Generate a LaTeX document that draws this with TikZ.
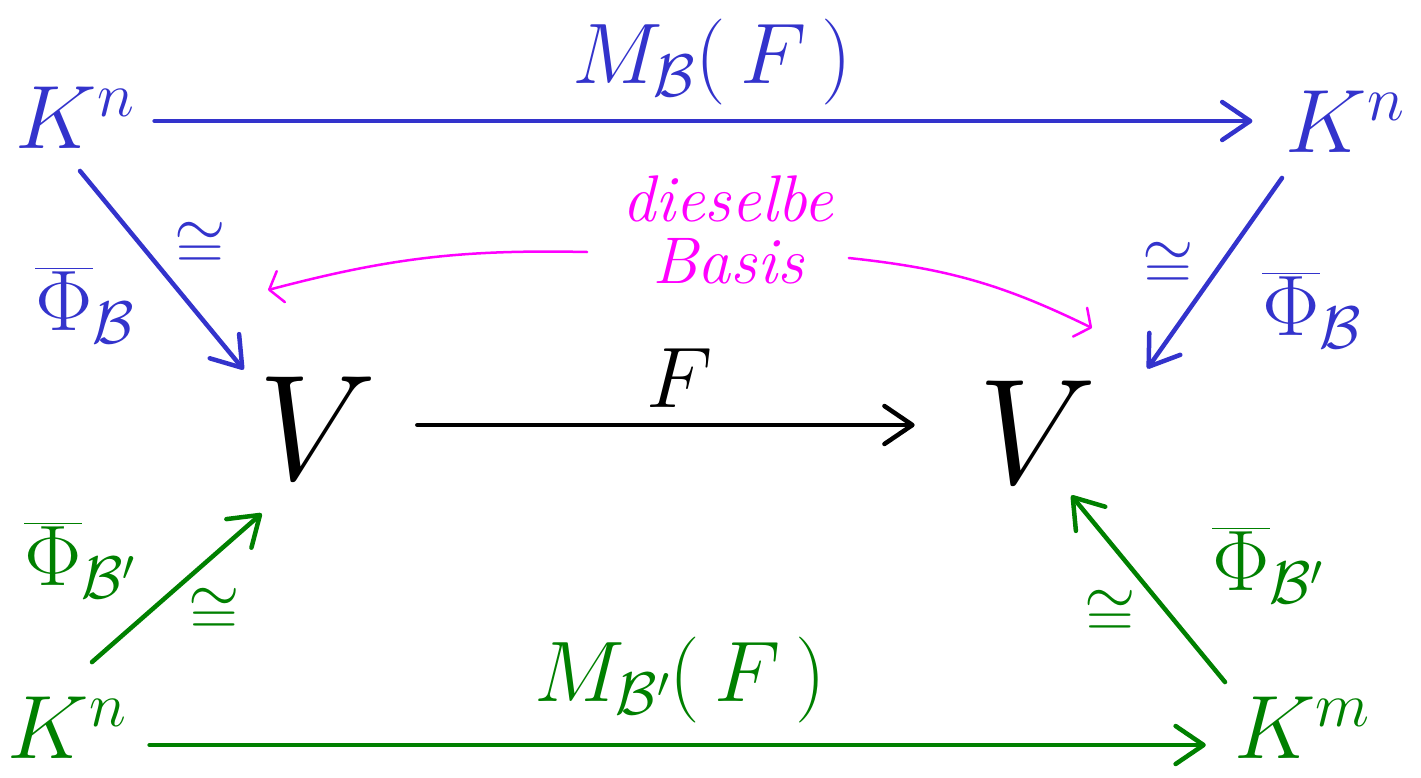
\RequirePackage{fix-cm}
\documentclass[tikz,border=0pt]{standalone}
\usepackage{amsmath}
\usepackage{tikz}
\usetikzlibrary{arrows.meta}
\definecolor{InkBlue}{HTML}{3333CC}
\definecolor{InkGreen}{HTML}{008000}
\definecolor{InkPink}{HTML}{FF00FF}

\begin{document}
\begin{tikzpicture}[x=1pt,y=-1pt, every node/.style={inner sep=0pt},
    sp/.style={font=\fontsize{90}{100}\selectfont},
    vs/.style={font=\fontsize{150}{160}\selectfont},
    lb/.style={font=\fontsize{86}{90}\selectfont},
    iso/.style={font=\fontsize{66}{72}\selectfont},
    arr/.style={line width=4.5pt,line cap=round,-{Straight Barb[round,length=28pt,width=38pt,line width=4.5pt]}},
    hint/.style={line width=2.5pt,line cap=round,-{Straight Barb[round,length=12pt,width=32pt,line width=2.5pt]}}]
    \useasboundingbox (0,0) rectangle (1421,777);
    % spaces
    \node[sp,text=InkBlue](kn1)at(75,118){$K^n$};
    \node[sp,text=InkBlue](kn2)at(1345,122){$K^n$};
    \node[vs](vL)at(318,428){$V$};
    \node[vs](vR)at(1038,432){$V$};
    \node[sp,text=InkGreen](kn3)at(67,728){$K^n$};
    \node[sp,text=InkGreen](km)at(1302,728){$K^m$};
    % maps
    \draw[arr,InkBlue]([shift={(20,3)}]kn1.east)--([shift={(-33,-1)}]kn2.west);
    \draw[arr]([shift={(40,-3)}]vL.east)--([shift={(-64,-7)}]vR.west);
    \draw[arr,InkGreen]([shift={(23,17)}]kn3.east)--([shift={(-28,17)}]km.west);
    \draw[arr,InkBlue]([shift={(5,22)}]kn1.south)--([shift={(-15,-7)}]vL.north west);
    \draw[arr,InkBlue]([shift={(-63,25)}]kn2.south)--([shift={(50,-12)}]vR.north east);
    \draw[arr,InkGreen]([shift={(25,-35)}]kn3.north)--([shift={(3,34)}]vL.south west);
    \draw[arr,InkGreen]([shift={(-77,-15)}]km.north)--([shift={(-26,12)}]vR.south east);
    % labels
    \node[lb,text=InkBlue](mB)at(712,62){$M_{\mathcal{B}}(\,F\,)$};
    \node[lb](f)at(680,378){$F$};
    \node[lb,text=InkGreen](mBp)at(680,680){$M_{\mathcal{B}'}(\,F\,)$};
    \node[lb,text=InkBlue](phi1)at(85,305){$\overline{\Phi}_{\mathcal{B}}$};
    \node[lb,text=InkBlue](phi2)at(1312,310){$\overline{\Phi}_{\mathcal{B}}$};
    \node[lb,text=InkGreen](phi3)at(80,560){$\overline{\Phi}_{\mathcal{B}'}$};
    \node[lb,text=InkGreen](phi4)at(1268,565){$\overline{\Phi}_{\mathcal{B}'}$};
    \node[iso,text=InkBlue](iso1)at(200,246){$\cong$};
    \node[iso,text=InkBlue](iso2)at(1168,266){$\cong$};
    \node[iso,text=InkGreen](iso3)at(214,612){$\cong$};
    \node[iso,text=InkGreen](iso4)at(1110,614){$\cong$};
    % same basis
    \node[font=\fontsize{66}{62}\selectfont\itshape,text=InkPink,align=center](basis)at(728,230){dieselbe\\Basis};
    \coordinate(pinL)at(268,290);
    \coordinate(pinR)at(1092,328);
    \draw[hint,InkPink]([shift={(-35,22)}]basis.west)to[bend right=8](pinL);
    \draw[hint,InkPink]([shift={(15,28)}]basis.east)to[bend left=10](pinR);
\end{tikzpicture}
\end{document}
